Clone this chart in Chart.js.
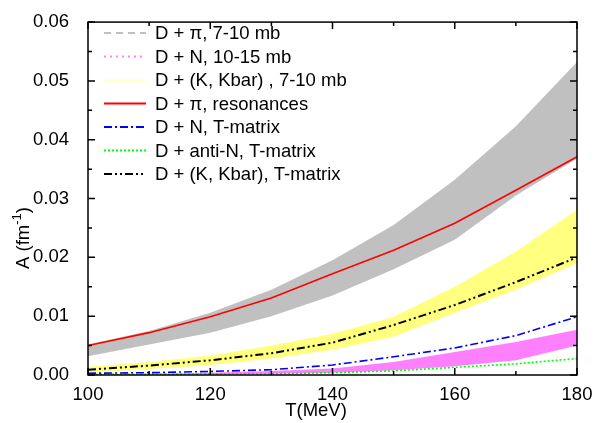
<!DOCTYPE html>
<html>
<head>
<meta charset="utf-8">
<script src="https://cdn.jsdelivr.net/npm/chart.js@4/dist/chart.umd.min.js"></script>
<style>
  html, body { margin: 0; padding: 0; background: #fff; }
  #wrap { width: 595px; height: 423px; }
</style>
</head>
<body>
<div id="wrap"><canvas id="chart"></canvas></div>
<script>
// temperature grid (MeV)
const temps = [100, 110, 120, 130, 140, 150, 160, 170, 180];

// D + pi band, 7-10 mb (upper / lower edge)
const piHi = [0.0052, 0.0075, 0.0106, 0.0145, 0.0195, 0.0255, 0.0332, 0.0423, 0.0532];
const piLo = [0.0032, 0.0052, 0.0072, 0.0100, 0.0135, 0.0180, 0.0230, 0.0305, 0.0368];

// D + (K, Kbar) band, 7-10 mb
const kHi = [0.0014, 0.0022, 0.0033, 0.0050, 0.0070, 0.0099, 0.0150, 0.0210, 0.0281];
const kLo = [0.0004, 0.0010, 0.0017, 0.0028, 0.0043, 0.0065, 0.0106, 0.0145, 0.0190];

// D + N band, 10-15 mb
const nHi = [0.0001, 0.0002, 0.0004, 0.0007, 0.0011, 0.0022, 0.0039, 0.0056, 0.0077];
const nLo = [0.0000, 0.0001, 0.0001, 0.0002, 0.0004, 0.0008, 0.0015, 0.0025, 0.0050];

// model curves
const piRes = [0.0050, 0.0072, 0.0099, 0.0131, 0.0172, 0.0212, 0.0258, 0.0314, 0.0371];
const nTmat = [0.0003, 0.0004, 0.0006, 0.0009, 0.0017, 0.0031, 0.0046, 0.0067, 0.0099];
const antiNTmat = [0.0001, 0.0001, 0.0002, 0.0002, 0.0004, 0.0007, 0.0013, 0.0019, 0.0028];
const kTmat = [0.0009, 0.0016, 0.0025, 0.0037, 0.0055, 0.0085, 0.0119, 0.0158, 0.0200];

// axis ticks
const xTicks = [100, 120, 140, 160, 180];
const yTicks = [0.00, 0.01, 0.02, 0.03, 0.04, 0.05, 0.06];

// legend labels, in drawing order
const legendLabels = [
  'D + \u03c0, 7-10 mb',
  'D + N, 10-15 mb',
  'D + (K, Kbar) , 7-10 mb',
  'D + \u03c0, resonances',
  'D + N, T-matrix',
  'D + anti-N, T-matrix',
  'D + (K, Kbar), T-matrix'
];

const FONT = '"Liberation Sans", Arial, sans-serif';
const FS = 18.5;

// legend line samples, same order as legendLabels
const legendStyles = [
  { color: '#c0c0c0', dash: [7, 5], width: 2 },
  { color: '#ff80ff', dash: [2, 4], width: 2 },
  { color: '#ffff80', dash: [1, 1], width: 1 },
  { color: '#ff0000', dash: [], width: 2 },
  { color: '#0000ff', dash: [8, 3, 2, 3], width: 2 },
  { color: '#00ff00', dash: [2, 2], width: 2 },
  { color: '#000000', dash: [8, 3, 2, 3, 2, 3], width: 2 }
];

// Method: toPoints
// Purpose: zips the temperature grid with a value list
const toPoints = (ys) => temps.map((t, i) => ({ x: t, y: ys[i] }));

// Method: band
// Purpose: upper and lower edge of a filled band, upper fills down to lower
const band = (hi, lo, color, loIndex) => [
  { data: toPoints(hi), borderWidth: 0, pointRadius: 0, backgroundColor: color, fill: loIndex, order: 2 },
  { data: toPoints(lo), borderWidth: 0, pointRadius: 0, backgroundColor: color, fill: false, order: 2 }
];

// Method: curve
// Purpose: a plain model line
const curve = (ys, color, dash, width) => ({
  data: toPoints(ys), borderColor: color, borderDash: dash, borderWidth: width,
  pointRadius: 0, fill: false, order: 0
});

const datasets = [
  ...band(piHi, piLo, '#c0c0c0', 1),
  ...band(kHi, kLo, '#ffff80', 3),
  ...band(nHi, nLo, '#ff80ff', 5),
  curve(piRes, '#ff0000', [], 1.6),
  curve(nTmat, '#0000ff', [8, 3, 2, 3], 1.6),
  curve(antiNTmat, '#00ff00', [2, 2], 1.6),
  curve(kTmat, '#000000', [8, 3, 2, 3, 2, 3], 2)
];

// frame, inward ticks, axis titles and the legend
const decorations = {
  id: 'decorations',
  afterDraw(chart) {
    const { ctx, chartArea: a, scales: { x, y } } = chart;
    ctx.save();
    ctx.strokeStyle = '#000';
    ctx.lineWidth = 1.5;
    ctx.setLineDash([]);
    ctx.strokeRect(a.left, a.top, a.right - a.left, a.bottom - a.top);

    // x ticks every 10 MeV, major every 20
    for (let t = 100; t <= 180; t += 10) {
      const px = x.getPixelForValue(t);
      const len = t % 20 === 0 ? 7 : 4;
      ctx.beginPath();
      ctx.moveTo(px, a.bottom); ctx.lineTo(px, a.bottom - len);
      ctx.moveTo(px, a.top); ctx.lineTo(px, a.top + len);
      ctx.stroke();
    }
    // y ticks every 0.005, major every 0.01
    for (let k = 0; k <= 12; k++) {
      const py = y.getPixelForValue(k * 0.005);
      const len = k % 2 === 0 ? 7 : 4;
      ctx.beginPath();
      ctx.moveTo(a.left, py); ctx.lineTo(a.left + len, py);
      ctx.moveTo(a.right, py); ctx.lineTo(a.right - len, py);
      ctx.stroke();
    }

    // axis titles
    ctx.fillStyle = '#000';
    ctx.font = FS + 'px ' + FONT;
    ctx.textAlign = 'center';
    ctx.textBaseline = 'middle';
    ctx.fillText('T(MeV)', 316, 411);

    ctx.save();
    ctx.translate(24, 238);
    ctx.rotate(-Math.PI / 2);
    ctx.textAlign = 'left';
    const base = 'A (fm';
    const w0 = ctx.measureText(base).width;
    ctx.font = '13px ' + FONT;
    const w1 = ctx.measureText('-1').width;
    ctx.font = FS + 'px ' + FONT;
    const w2 = ctx.measureText(')').width;
    let sx = -(w0 + w1 + w2) / 2;
    ctx.fillText(base, sx, 0);
    sx += w0;
    ctx.font = '13px ' + FONT;
    ctx.fillText('-1', sx, -7);
    sx += w1;
    ctx.font = FS + 'px ' + FONT;
    ctx.fillText(')', sx, 0);
    ctx.restore();

    // legend
    ctx.font = FS + 'px ' + FONT;
    ctx.textAlign = 'left';
    legendLabels.forEach((label, i) => {
      const ly = 33 + i * 23.5;
      const st = legendStyles[i];
      ctx.beginPath();
      ctx.strokeStyle = st.color;
      ctx.lineWidth = st.width;
      ctx.setLineDash(st.dash);
      ctx.moveTo(104, ly); ctx.lineTo(146, ly);
      ctx.stroke();
      ctx.setLineDash([]);
      ctx.fillStyle = '#000';
      ctx.fillText(label, 155, ly + 1);
    });
    ctx.restore();
  }
};

const renderChart = () => {
  new Chart(document.getElementById('chart'), {
    type: 'line',
    data: { datasets: datasets },
    plugins: [decorations],
    options: {
      responsive: true,
      maintainAspectRatio: false,
      animation: false,
      layout: { padding: { top: 16, right: 18, left: 0, bottom: 0 } },
      plugins: { legend: { display: false }, tooltip: { enabled: false } },
      scales: {
        x: {
          type: 'linear', min: 100, max: 180,
          grid: { display: false }, border: { display: false },
          afterBuildTicks: (s) => { s.ticks = xTicks.map((v) => ({ value: v })); },
          afterFit: (s) => { s.height = 48; },
          ticks: { color: '#000', padding: 1, maxRotation: 0, font: { family: FONT, size: FS } }
        },
        y: {
          type: 'linear', min: 0, max: 0.06,
          grid: { display: false }, border: { display: false },
          afterBuildTicks: (s) => { s.ticks = yTicks.map((v) => ({ value: v })); },
          afterFit: (s) => { s.width = 88; },
          ticks: {
            color: '#000', padding: 11, font: { family: FONT, size: FS },
            callback: (v) => v.toFixed(2)
          }
        }
      }
    }
  });
};

renderChart();
</script>
</body>
</html>
